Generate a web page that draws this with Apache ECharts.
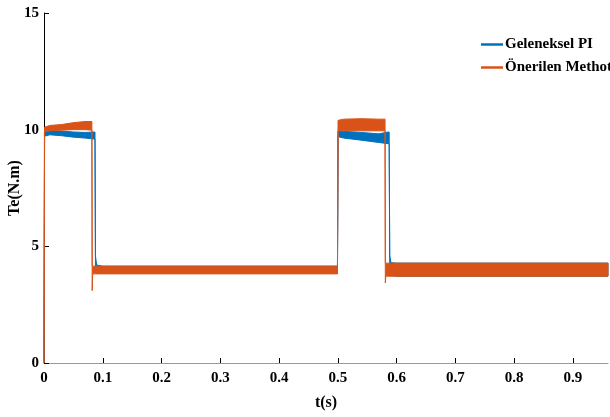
<!DOCTYPE html>
<html>
<head>
<meta charset="utf-8">
<script src="https://cdn.jsdelivr.net/npm/echarts@6/dist/echarts.min.js"></script>
<style>html,body{margin:0;padding:0;background:#fff;}#c{width:610px;height:417px;}</style>
</head>
<body>
<div id="c"></div>
<script>
// Geleneksel PI: time points with upper / lower edge of the noisy band
const T_PI  = [0, 0.001, 0.01, 0.03, 0.05, 0.07, 0.085, 0.0868, 0.0876, 0.0895, 0.1, 0.3, 0.4995, 0.5005, 0.51, 0.54, 0.57, 0.586, 0.5875, 0.5885, 0.5905, 0.6, 0.8, 0.96];
const UP_PI = [0, 9.92, 9.96, 9.94, 9.9, 9.88, 9.9, 9.9, 4.6, 4.2, 4.15, 4.15, 4.15, 9.95, 9.93, 9.88, 9.82, 9.9, 9.9, 4.6, 4.3, 4.28, 4.28, 4.28];
const LO_PI = [0, 9.72, 9.78, 9.74, 9.68, 9.64, 9.6, 9.6, 4.1, 3.85, 3.85, 3.85, 3.85, 9.7, 9.64, 9.55, 9.45, 9.4, 9.4, 4.15, 3.75, 3.72, 3.72, 3.72];

// Önerilen Methot
const T_ON  = [0, 0.0008, 0.01, 0.03, 0.05, 0.07, 0.0815, 0.082, 0.0828, 0.085, 0.1, 0.3, 0.4995, 0.5005, 0.51, 0.54, 0.57, 0.5805, 0.581, 0.5818, 0.584, 0.6, 0.8, 0.96];
const UP_ON = [0, 10.1, 10.18, 10.22, 10.3, 10.35, 10.35, 4.2, 4.15, 4.15, 4.15, 4.15, 4.15, 10.4, 10.45, 10.47, 10.45, 10.45, 4.28, 4.28, 4.28, 4.28, 4.28, 4.28];
const LO_ON = [0, 9.9, 9.95, 9.98, 10.0, 10.0, 9.98, 3.1, 3.82, 3.82, 3.82, 3.82, 3.82, 9.95, 9.95, 9.95, 9.95, 9.95, 3.43, 3.72, 3.72, 3.72, 3.72, 3.72];

const SERIES_NAMES = ['Geleneksel PI', 'Önerilen Methot'];
const COLORS = ['#0072BD', '#D95319'];

const X_TICKS = [0.1, 0.2, 0.3, 0.4, 0.5, 0.6, 0.7, 0.8, 0.9];
const X_LABELS = [0, 0.1, 0.2, 0.3, 0.4, 0.5, 0.6, 0.7, 0.8, 0.9];

const FONT = 'Liberation Serif';

function bandRenderer(T, U, L, color) {
  return function (params, api) {
    const pts = [];
    for (let i = 0; i < T.length; i++) pts.push(api.coord([T[i], U[i]]));
    for (let i = T.length - 1; i >= 0; i--) pts.push(api.coord([T[i], L[i]]));
    return {
      type: 'polygon',
      shape: { points: pts },
      style: { fill: color, stroke: color, lineWidth: 1 }
    };
  };
}

const chart = echarts.init(document.getElementById('c'), null, { renderer: 'canvas' });
chart.setOption({
  animation: false,
  backgroundColor: '#fff',
  grid: { left: 44, right: 2, top: 13, bottom: 54, containLabel: false, outerBoundsMode: 'none' },
  legend: {
    left: 481, top: 37, orient: 'vertical', padding: 0,
    itemWidth: 22, itemHeight: 2.5, itemGap: 8,
    data: SERIES_NAMES.map(n => ({ name: n, icon: 'rect' })),
    textStyle: { fontFamily: FONT, fontWeight: 'bold', fontSize: 15, color: '#000', padding: [0, 0, 0, -3] }
  },
  xAxis: {
    type: 'value', min: 0, max: 0.96,
    name: 't(s)', nameLocation: 'middle', nameGap: 32, nameMoveOverlap: false,
    nameTextStyle: { fontFamily: FONT, fontWeight: 'bold', fontSize: 16, color: '#000' },
    axisLine: { show: true, lineStyle: { color: '#999', width: 1 } },
    axisTick: { show: true, inside: true, length: 5, lineStyle: { color: '#000' }, customValues: X_TICKS },
    axisLabel: { fontFamily: FONT, fontWeight: 'bold', fontSize: 15, color: '#000', margin: 8, customValues: X_LABELS, formatter: v => String(v) },
    splitLine: { show: false }
  },
  yAxis: {
    type: 'value', min: 0, max: 15, interval: 5,
    name: 'Te(N.m)', nameLocation: 'middle', nameGap: 21, nameRotate: 90, nameMoveOverlap: false,
    nameTextStyle: { fontFamily: FONT, fontWeight: 'bold', fontSize: 16, color: '#000' },
    axisLine: { show: true, lineStyle: { color: '#000', width: 1 } },
    axisTick: { show: true, inside: true, length: 5, lineStyle: { color: '#000' } },
    axisLabel: { fontFamily: FONT, fontWeight: 'bold', fontSize: 15, color: '#000', margin: 5 },
    splitLine: { show: false }
  },
  series: [
    {
      name: SERIES_NAMES[0], type: 'custom', itemStyle: { color: COLORS[0] },
      renderItem: bandRenderer(T_PI, UP_PI, LO_PI, COLORS[0]),
      data: [[T_PI[0], UP_PI[0]]], z: 2
    },
    {
      name: SERIES_NAMES[1], type: 'custom', itemStyle: { color: COLORS[1] },
      renderItem: bandRenderer(T_ON, UP_ON, LO_ON, COLORS[1]),
      data: [[T_ON[0], UP_ON[0]]], z: 3
    }
  ]
});
</script>
</body>
</html>
